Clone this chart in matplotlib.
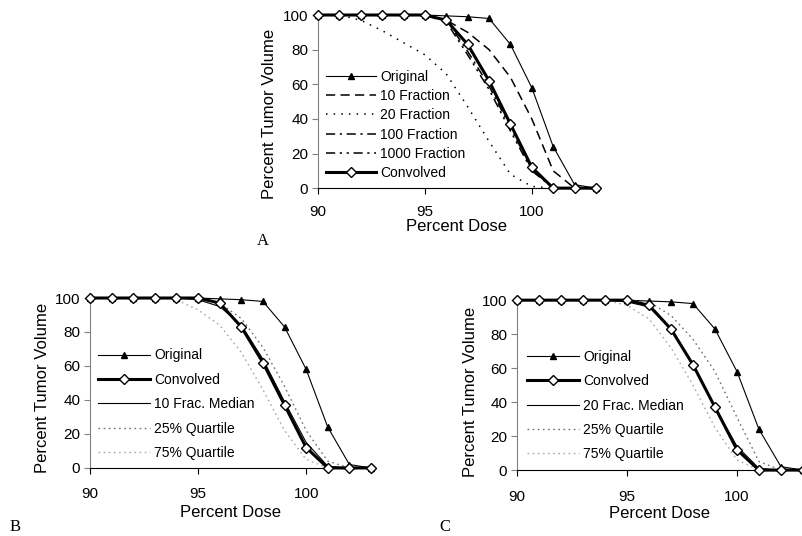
import matplotlib
matplotlib.use("Agg")
import matplotlib.pyplot as plt
import numpy as np

plt.rcParams['font.family'] = ['Liberation Sans', 'DejaVu Sans']

dose = [90, 91, 92, 93, 94, 95, 96, 97, 98, 99, 100, 101, 102, 103]

original = [100, 100, 100, 100, 100, 100, 99.5, 99, 98, 83, 58, 24, 2, 0]
convolved = [100, 100, 100, 100, 100, 100, 97, 83, 62, 37, 12, 0, 0, 0]

# panel A
frac10 = [100, 100, 100, 100, 100, 100, 97, 90, 80, 64, 40, 10, 0, 0]
frac20 = [100, 100, 97, 91, 84, 77, 66, 47, 27, 8, 1, 0, 0, 0]
frac100 = [100, 100, 100, 100, 100, 100, 97, 79, 59, 35, 11, 0, 0, 0]
frac1000 = [100, 100, 100, 100, 100, 100, 96, 77, 57, 33, 10, 0, 0, 0]

# panel B
median10 = [100, 100, 100, 100, 100, 99, 95, 84, 64, 39, 15, 1, 0, 0]
q25_b = [100, 100, 100, 100, 100, 100, 97, 88, 71, 48, 22, 4, 0, 0]
q75_b = [100, 100, 100, 100, 99, 93, 84, 68, 46, 22, 5, 0, 0, 0]

# panel C
median20 = [100, 100, 100, 100, 100, 99, 96, 83, 62, 37, 14, 1, 0, 0]
q25_c = [100, 100, 100, 100, 100, 100, 99, 91, 77, 58, 31, 5, 0, 0]
q75_c = [100, 100, 100, 100, 100, 97, 89, 72, 50, 25, 6, 0, 0, 0]

fig = plt.figure(figsize=(8.02, 5.36), dpi=100)


def setup(ax, xlab_y, ylab_x, ylab_y, xpad=10):
    ax.set_xlim(90, 103)
    ax.set_ylim(0, 100)
    ax.set_xticks([90, 95, 100])
    ax.set_yticks([0, 20, 40, 60, 80, 100])
    ax.spines['top'].set_visible(False)
    ax.spines['right'].set_visible(False)
    ax.spines['left'].set_color('#808080')
    ax.spines['bottom'].set_color('black')
    ax.tick_params(axis='x', direction='out', length=4, width=0.8, labelsize=11, pad=xpad)
    ax.tick_params(axis='y', direction='out', length=4, width=0.8, labelsize=11, pad=3,
                   color='#808080')
    ax.set_xlabel('Percent Dose', fontsize=12)
    ax.set_ylabel('Percent Tumor Volume', fontsize=12)
    ax.xaxis.set_label_coords(0.5, xlab_y)
    ax.yaxis.set_label_coords(ylab_x, ylab_y)


def plot_orig(ax):
    ax.plot(dose, original, color='black', lw=0.8, marker='^', ms=4,
            label='Original', clip_on=False)


def plot_conv(ax):
    ax.plot(dose, convolved, color='black', lw=2.2, marker='D', ms=5,
            mfc='white', mec='black', mew=1, label='Convolved', clip_on=False,
            zorder=5)


# ---- A ----
axA = fig.add_axes([0.3965, 0.649, 0.3466, 0.323])
plot_orig(axA)
axA.plot(dose, frac10, color='black', lw=1.1, dashes=(6, 3.5), label='10 Fraction')
axA.plot(dose, frac20, color='black', lw=1.1, dashes=(1, 4), label='20 Fraction')
axA.plot(dose, frac100, color='black', lw=1.1, dashes=(6, 3, 1.5, 3), label='100 Fraction')
axA.plot(dose, frac1000, color='black', lw=1.1, dashes=(6, 3, 1.5, 3, 1.5, 3),
         label='1000 Fraction')
plot_conv(axA)
setup(axA, -0.176, -0.147, 0.43, xpad=8.5)
axA.legend(loc='center left', bbox_to_anchor=(0.03, 0.365), frameon=False,
           fontsize=10, handlelength=3.6, handletextpad=0.3, labelspacing=0.38,
           borderpad=0, borderaxespad=0)

# ---- B ----
axB = fig.add_axes([0.1122, 0.127, 0.3504, 0.317])
plot_orig(axB)
plot_conv(axB)
axB.plot(dose, median10, color='black', lw=0.8, label='10 Frac. Median')
axB.plot(dose, q25_b, color='#707070', lw=1.0, dashes=(1.2, 2.5), label='25% Quartile')
axB.plot(dose, q75_b, color='#a8a8a8', lw=1.0, dashes=(1.2, 2.5), label='75% Quartile')
setup(axB, -0.218, -0.142, 0.47)
axB.legend(loc='center left', bbox_to_anchor=(0.028, 0.375), frameon=False,
           fontsize=10, handlelength=3.75, handletextpad=0.3, labelspacing=0.75,
           borderpad=0, borderaxespad=0)

# ---- C ----
axC = fig.add_axes([0.6446, 0.123, 0.3566, 0.317])
plot_orig(axC)
plot_conv(axC)
axC.plot(dose, median20, color='black', lw=0.8, label='20 Frac. Median')
axC.plot(dose, q25_c, color='#707070', lw=1.0, dashes=(1.2, 2.5), label='25% Quartile')
axC.plot(dose, q75_c, color='#a8a8a8', lw=1.0, dashes=(1.2, 2.5), label='75% Quartile')
setup(axC, -0.212, -0.136, 0.46)
axC.legend(loc='center left', bbox_to_anchor=(0.035, 0.38), frameon=False,
           fontsize=10, handlelength=3.75, handletextpad=0.3, labelspacing=0.74,
           borderpad=0, borderaxespad=0)

for lbl, x, y in [('A', 263, 241), ('B', 15, 527), ('C', 445, 527)]:
    fig.text(x / 802, 1 - y / 536, lbl, ha='center', va='center', fontsize=12,
             family='Liberation Serif')

fig.savefig('out.png', dpi=100)
